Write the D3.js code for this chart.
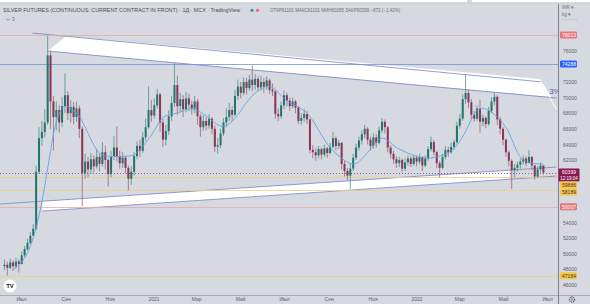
<!DOCTYPE html>
<html>
<head>
<meta charset="utf-8">
<script src="https://cdn.jsdelivr.net/npm/d3@7"></script>
<style>
body { margin: 0; background: #d6d9e0; }
svg { display: block; font-family: "Liberation Sans", Arial, sans-serif; }
</style>
</head>
<body>
<div id="chart"></div>
<script>
var W = 590, H = 304;
var plotRight = 558, plotTop = 4, plotBottom = 295;

// daily-ish candles, one every 4 calendar days starting here
var firstCandle = new Date(2020, 5, 8);
var stepDays = 4;

var closes = [48600, 48200, 48900, 48400, 49000, 48700, 49800, 50600, 51400, 52300,
  53200, 60500, 64800, 65600, 66800, 75400, 69500, 67500, 68400, 66800,
  68900, 70300, 68000, 68800, 67500, 68600, 66000, 60300, 61800, 60800,
  62100, 61200, 62400, 61500, 63000, 62000, 60200, 62400, 63600, 62500,
  61600, 62300, 61000, 59600, 60500, 62500, 63800, 63200, 64900, 66200,
  68400, 67700, 69000, 70400, 66800, 64600, 65700, 67600, 69300, 71600,
  68900, 69800, 68500, 69900, 69100, 68600, 69500, 67600, 66200, 67000,
  66400, 67300, 66000, 63700, 63900, 65400, 66800, 67500, 68400, 67800,
  70200, 71400, 70600, 72000, 71200, 72300, 71600, 72400, 71300, 72000,
  71400, 72200, 71000, 70800, 67900, 67600, 69000, 70300, 69600, 68900,
  69500, 68700, 67000, 67400, 67900, 67200, 63300, 63000, 62600, 63400,
  62700, 63500, 62900, 63700, 64800, 63800, 64200, 61500, 60600, 60000,
  60900, 62300, 63600, 64500, 65300, 66000, 64600, 63800, 64900, 64200,
  65800, 66900, 66200, 63600, 62800, 62100, 61600, 62000, 60900, 61700,
  62200, 61500, 62300, 61800, 62400, 61300, 62200, 63400, 64300, 63000,
  61600, 61000, 62400, 63300, 63000, 63700, 64300, 66400, 67300, 69800,
  70600, 69400, 67800, 67300, 68600, 66900, 67400, 66600, 68300, 69500,
  70100, 67200, 66000, 64600, 63000, 61900, 60700, 61000, 61400, 61800,
  62200, 61600, 62400, 61300, 59900, 60800, 61300, 60400];

var highs = [49300, 49000, 49400, 49200, 49500, 49300, 50300, 51000, 51900, 52800,
  53800, 61300, 66200, 67000, 68500, 77900, 76000, 70200, 69500, 69000,
  70000, 73100, 70800, 69700, 69400, 69500, 69000, 66300, 62800, 62400,
  62900, 62600, 63400, 62800, 64300, 63800, 62200, 63200, 65100, 66300,
  63200, 63000, 62500, 61300, 61200, 63000, 64400, 64600, 65600, 67300,
  71400, 69700, 69900, 71100, 70600, 67300, 66500, 68400, 70200, 74400,
  72800, 70600, 70300, 70700, 70500, 69600, 70200, 69800, 67900, 67800,
  67500, 67900, 67500, 66400, 64800, 66000, 67400, 68600, 69300, 68900,
  71000, 72300, 72000, 72600, 72500, 72900, 74100, 73000, 72700, 72800,
  72500, 72700, 72400, 71800, 70900, 68600, 69500, 70900, 70600, 70000,
  70000, 69700, 68900, 68000, 68500, 68300, 67300, 63900, 63500, 63800,
  63600, 64000, 63700, 64200, 65600, 65000, 64600, 64300, 61900, 61000,
  61500, 62800, 64100, 65000, 65800, 66500, 66200, 65000, 65400, 65300,
  66300, 67400, 67200, 66400, 63900, 63200, 62500, 62400, 62200, 62200,
  62600, 62500, 62700, 62600, 62800, 62500, 62600, 63800, 65000, 64600,
  63200, 61900, 62800, 63800, 63700, 64200, 64600, 66900, 67900, 70400,
  72900, 71000, 69800, 68300, 69000, 69700, 67800, 67600, 68800, 70000,
  70600, 70300, 67500, 66200, 64800, 63200, 62100, 61500, 61800, 62200,
  62600, 62500, 63300, 62500, 61400, 61200, 61700, 61300];

var lows = [47900, 47200, 48000, 47800, 48100, 47600, 48600, 49600, 50400, 51200,
  52300, 53000, 60200, 63800, 64900, 66500, 66000, 63200, 65800, 65500,
  66200, 68000, 67100, 66800, 66600, 66900, 64800, 56100, 59600, 59800,
  60200, 60400, 60900, 60600, 61200, 60800, 58600, 59800, 62000, 61800,
  60900, 61000, 60300, 58100, 58800, 60000, 62100, 62400, 62900, 64500,
  66000, 66900, 67300, 68600, 65600, 63700, 63900, 65200, 67000, 68800,
  67800, 68200, 67500, 68100, 68300, 67800, 68000, 66500, 65000, 65700,
  65800, 66000, 65300, 63000, 62800, 63500, 65100, 66200, 67000, 67000,
  67600, 69700, 69900, 70300, 70400, 70900, 70800, 71000, 70800, 70900,
  70600, 71000, 70500, 70200, 67300, 67000, 67300, 68500, 68900, 68300,
  68600, 68000, 66600, 66500, 66900, 66600, 62900, 62200, 61900, 62200,
  62100, 62400, 62300, 62700, 63500, 63200, 63400, 60800, 59900, 59400,
  58300, 60600, 62000, 63200, 64000, 64800, 64000, 63200, 63500, 63600,
  64000, 65500, 65400, 63000, 62200, 61500, 61000, 61100, 60500, 60600,
  61300, 61100, 61300, 61200, 61500, 60600, 61100, 61900, 63100, 62600,
  61000, 59800, 60800, 62100, 62400, 62800, 63300, 64100, 66000, 67000,
  69200, 68700, 67200, 66900, 67000, 65500, 66300, 66100, 66400, 68000,
  69000, 66500, 65300, 63900, 62400, 61200, 58300, 59800, 60500, 60900,
  61400, 61200, 61600, 60700, 59500, 59700, 60400, 60100];

var firstOpen = 48400;

// moving average, at candle positions
var maIndex = [3, 6, 9, 12, 14, 16, 17, 19, 21, 23, 26, 28, 31, 33, 37, 42, 45, 47, 51, 54,
  56, 61, 64, 69, 74, 77, 81, 85, 90, 93, 96, 100, 104, 107, 112, 116, 121, 124, 128, 131,
  135, 137, 142, 147, 151, 155, 158, 161, 163, 165, 168, 170, 172, 175, 177, 179, 182, 184, 187];
var maValues = [47900, 48800, 50600, 54600, 58600, 63200, 65500, 68300, 69100, 68600, 67800, 66200, 63900, 62600, 62400, 62500, 62500, 63400, 65000, 67200,
  67800, 68000, 68800, 68100, 66300, 66200, 67600, 70100, 71400, 71600, 70100, 69100, 68500, 67200, 63800, 62500, 61100, 62100, 63800, 65300,
  63800, 63400, 62500, 62100, 62500, 63000, 64300, 66300, 68100, 68700, 68500, 67800, 67200, 65700, 63800, 62100, 61700, 61500, 61500];

// horizontal levels drawn on the chart
var levelValues = [78013, 74288, 59886, 58189, 56007, 47184];
var levelKinds = ["red", "blue", "yellow", "yellow", "red", "yellow"];
var lastPrice = 60399;
var countdown = "12:19:04";

// wedge drawings (date, price anchors)
var upperTop = [[new Date(2020, 6, 17), 78260], [new Date(2022, 5, 25), 71990]];
var upperBottom = [[new Date(2020, 7, 7), 75960], [new Date(2022, 6, 14), 69940]];
var upperFill = [[new Date(2020, 8, 2), 77880], [new Date(2022, 5, 21), 72370],
  [new Date(2022, 6, 7), 70070], [new Date(2020, 7, 7), 75960]];
var lowerTop = [[new Date(2020, 5, 2), 56370], [new Date(2022, 6, 14), 61100]];
var lowerBottom = [[new Date(2020, 6, 31), 55470], [new Date(2022, 6, 14), 59950]];
var lowerFillDates = [new Date(2020, 6, 31), new Date(2022, 4, 10)];
var measureLine = [[new Date(2022, 5, 21), 72370], [new Date(2022, 6, 14), 68460]];
var measureText = {date: new Date(2022, 6, 4), price: 70800, text: "3%"};

var priceTicks = d3.range(46000, 80001, 2000);
var monthsRu = ["Янв", "Фев", "Мар", "Апр", "Май", "Июн", "Июл", "Авг", "Сен", "Окт", "Ноя", "Дек"];

var candles = closes.map(function(c, i) {
  return {
    date: d3.timeDay.offset(firstCandle, i * stepDays),
    open: i === 0 ? firstOpen : closes[i - 1],
    high: highs[i], low: lows[i], close: c
  };
});

var x = d3.scaleTime()
  .domain([new Date(2020, 6, 1), new Date(2022, 6, 1)])
  .range([21, 547]);
var y = d3.scaleLinear()
  .domain([46000, 76000])
  .range([285, 50.7]);

var svg = d3.select("#chart").append("svg")
  .attr("width", W).attr("height", H);

svg.append("rect").attr("width", W).attr("height", H).attr("fill", "#d6d9e0");

svg.append("clipPath").attr("id", "plotclip")
  .append("rect").attr("x", 0).attr("y", plotTop)
  .attr("width", plotRight).attr("height", plotBottom - plotTop);

var plot = svg.append("g").attr("clip-path", "url(#plotclip)");

var line = d3.line().x(function(d) { return x(d[0]); }).y(function(d) { return y(d[1]); });

function along(seg, date) {
  var t = (date - seg[0][0]) / (seg[1][0] - seg[0][0]);
  return seg[0][1] + t * (seg[1][1] - seg[0][1]);
}

// upper band
plot.append("path").attr("d", line(upperFill) + "Z")
  .attr("fill", "#ffffff");
// lower band
var lowerFill = [
  [lowerFillDates[0], along(lowerTop, lowerFillDates[0])],
  [lowerFillDates[1], along(lowerTop, lowerFillDates[1])],
  [lowerFillDates[1], along(lowerBottom, lowerFillDates[1])],
  [lowerFillDates[0], along(lowerBottom, lowerFillDates[0])]
];
plot.append("path").attr("d", line(lowerFill) + "Z")
  .attr("fill", "#ffffff");

[upperTop, upperBottom, lowerTop, lowerBottom].forEach(function(seg) {
  plot.append("path").attr("d", line(seg))
    .attr("fill", "none").attr("stroke", "#7a84c4").attr("stroke-width", 0.8);
});
plot.append("path").attr("d", line(measureLine))
  .attr("fill", "none").attr("stroke", "#ffffff").attr("stroke-width", 1);

// level lines
var lineColors = {red: "#e5a9ac", blue: "#6f95da", yellow: "#e9cf86"};
var boxColors = {red: "#e3777b", blue: "#2962ff", yellow: "#f6c544"};
var boxText = {red: "#ffffff", blue: "#ffffff", yellow: "#3a3a3a"};

levelValues.forEach(function(v, i) {
  plot.append("line")
    .attr("x1", 0).attr("x2", plotRight)
    .attr("y1", Math.round(y(v)) + 0.5).attr("y2", Math.round(y(v)) + 0.5)
    .attr("stroke", lineColors[levelKinds[i]]).attr("stroke-width", 0.8);
});
plot.append("line")
  .attr("x1", 0).attr("x2", plotRight)
  .attr("y1", Math.round(y(lastPrice)) + 0.5).attr("y2", Math.round(y(lastPrice)) + 0.5)
  .attr("stroke", "#8e2456").attr("stroke-width", 0.7).attr("stroke-dasharray", "1,2");

// candles
var bw = 2;
var cg = plot.append("g");
cg.selectAll("line.wick").data(candles).enter().append("line")
  .attr("class", "wick")
  .attr("x1", function(d) { return x(d.date); })
  .attr("x2", function(d) { return x(d.date); })
  .attr("y1", function(d) { return y(d.high); })
  .attr("y2", function(d) { return y(d.low); })
  .attr("stroke", function(d) { return d.close >= d.open ? "#4f8f88" : "#9a6479"; })
  .attr("stroke-width", 0.8);
cg.selectAll("rect.body").data(candles).enter().append("rect")
  .attr("class", "body")
  .attr("x", function(d) { return x(d.date) - bw / 2; })
  .attr("y", function(d) { return y(Math.max(d.open, d.close)); })
  .attr("width", bw)
  .attr("height", function(d) { return Math.max(1, Math.abs(y(d.open) - y(d.close))); })
  .attr("fill", function(d) { return d.close >= d.open ? "#23756c" : "#8a3458"; });

// moving average
var maLine = d3.line()
  .x(function(d) { return x(candles[d[0]].date); })
  .y(function(d) { return y(d[1]); })
  .curve(d3.curveBasis);
plot.append("path")
  .attr("d", maLine(maIndex.map(function(k, i) { return [k, maValues[i]]; })))
  .attr("fill", "none").attr("stroke", "#5ea7e6").attr("stroke-width", 0.9);

plot.append("text")
  .attr("x", x(measureText.date)).attr("y", y(measureText.price))
  .attr("dy", "0.35em")
  .attr("fill", "#4857b8").style("font-size", "8px")
  .text(measureText.text);

// TradingView logo
svg.append("circle").attr("cx", 10).attr("cy", 286).attr("r", 6.5).attr("fill", "#ffffff");
svg.append("text").attr("x", 10).attr("y", 288.2).attr("text-anchor", "middle")
  .style("font-size", "6px").style("font-weight", "bold").attr("fill", "#131722").text("TV");

// axes frame
svg.append("line").attr("x1", 0).attr("x2", W).attr("y1", plotBottom + 0.5).attr("y2", plotBottom + 0.5)
  .attr("stroke", "#a9acb5");
svg.append("line").attr("x1", plotRight + 0.5).attr("x2", plotRight + 0.5).attr("y1", plotTop).attr("y2", H)
  .attr("stroke", "#7d808a");

// label boxes on the price scale
var boxes = [{value: lastPrice, kind: "last", h: 13, above: 4}];
levelValues.forEach(function(v, i) { boxes.push({value: v, kind: levelKinds[i], h: 7, above: 3.5}); });
boxes.sort(function(a, b) { return y(a.value) - y(b.value); });
var prevBottom = -Infinity;
boxes.forEach(function(b) {
  b.top = Math.max(y(b.value) - b.above, prevBottom);
  prevBottom = b.top + b.h;
});

// price axis
var yAxis = d3.axisRight(y).tickValues(priceTicks.filter(function(v) {
    return y(v) > 22 && y(v) < 292 && boxes.every(function(b) {
      return y(v) < b.top - 2 || y(v) > b.top + b.h + 2;
    });
  }))
  .tickSize(0).tickPadding(5)
  .tickFormat(d3.format("d"));
var ya = svg.append("g").attr("transform", "translate(" + plotRight + ",0)").call(yAxis);
ya.select(".domain").remove();
ya.selectAll("text").attr("fill", "#5d606b").style("font-size", "5px")
  .style("font-family", "Liberation Sans, Arial, sans-serif");

var bg = svg.append("g");
boxes.forEach(function(b) {
  var isLast = b.kind === "last";
  bg.append("rect")
    .attr("x", isLast ? 558.5 : 560).attr("y", b.top)
    .attr("width", isLast ? 21 : 17).attr("height", b.h)
    .attr("rx", 1)
    .attr("fill", isLast ? "#8a1752" : boxColors[b.kind]);
  bg.append("text")
    .attr("x", 569).attr("y", b.top + 3.5).attr("dy", "0.35em")
    .attr("text-anchor", "middle")
    .attr("fill", isLast ? "#ffffff" : boxText[b.kind])
    .style("font-size", "5px")
    .text(d3.format("d")(b.value));
  if (isLast) {
    bg.append("text")
      .attr("x", 569).attr("y", b.top + 9.5).attr("dy", "0.35em")
      .attr("text-anchor", "middle").attr("fill", "#ffffff")
      .style("font-size", "4.5px").text(countdown);
  }
});

// time axis
var xAxis = d3.axisBottom(x)
  .ticks(d3.timeMonth.every(2))
  .tickSize(0).tickPadding(2.5)
  .tickFormat(function(d) { return d.getMonth() === 0 ? d.getFullYear() : monthsRu[d.getMonth()]; });
var xa = svg.append("g").attr("transform", "translate(0," + plotBottom + ")").call(xAxis);
xa.select(".domain").remove();
xa.selectAll("text").attr("fill", "#5d606b").style("font-size", "5px")
  .style("font-family", "Liberation Sans, Arial, sans-serif");

// settings gear bottom right
svg.append("circle").attr("cx", 572).attr("cy", 299.5).attr("r", 2.6)
  .attr("fill", "none").attr("stroke", "#4a4d57").attr("stroke-width", 1.2)
  .attr("stroke-dasharray", "1,0.9");
svg.append("circle").attr("cx", 572).attr("cy", 299.5).attr("r", 1)
  .attr("fill", "#d6d9e0").attr("stroke", "#4a4d57").attr("stroke-width", 0.5);

// price scale header
svg.append("text").attr("x", 562).attr("y", 9).attr("fill", "#6a6d78")
  .style("font-size", "4.5px").text("INR ▾");
svg.append("text").attr("x", 562).attr("y", 16).attr("fill", "#6a6d78")
  .style("font-size", "4.5px").text("kg ▾");
svg.append("line").attr("x1", 562).attr("x2", 578).attr("y1", 19.5).attr("y2", 19.5)
  .attr("stroke", "#9a9da6").attr("stroke-width", 0.5).attr("stroke-dasharray", "1,1");

// top strip
svg.append("rect").attr("x", 0).attr("y", 0).attr("width", 467).attr("height", 2.5).attr("fill", "#ffffff");
svg.append("rect").attr("x", 472).attr("y", 0).attr("width", W - 472).attr("height", 2.5).attr("fill", "#ffffff");
svg.append("line").attr("x1", 0).attr("x2", W).attr("y1", 3).attr("y2", 3)
  .attr("stroke", "#b8bbc3").attr("stroke-width", 0.6);

// legend
svg.append("text").attr("x", 3).attr("y", 12).attr("fill", "#4a4d57")
  .style("font-size", "5.4px")
  .text("SILVER FUTURES (CONTINUOUS: CURRENT CONTRACT IN FRONT) · 1Д · MCX · TradingView");
svg.append("circle").attr("cx", 252).attr("cy", 10.3).attr("r", 1.6).attr("fill", "#26a69a");
svg.append("circle").attr("cx", 257.5).attr("cy", 10.3).attr("r", 1.6).attr("fill", "#f06292");
svg.append("text").attr("x", 270).attr("y", 12).attr("fill", "#6a6d78")
  .style("font-size", "4.5px")
  .text("ОТКР61101  МАКС61101  МИН60265  ЗАКР60399  −872 (−1.42%)");
svg.append("path").attr("d", "M6,18.5 L8,20.3 L10,18.5")
  .attr("fill", "none").attr("stroke", "#6a6d78").attr("stroke-width", 0.6);
svg.append("text").attr("x", 12).attr("y", 21).attr("fill", "#6a6d78")
  .style("font-size", "4.5px").text("3");
</script>
</body>
</html>
